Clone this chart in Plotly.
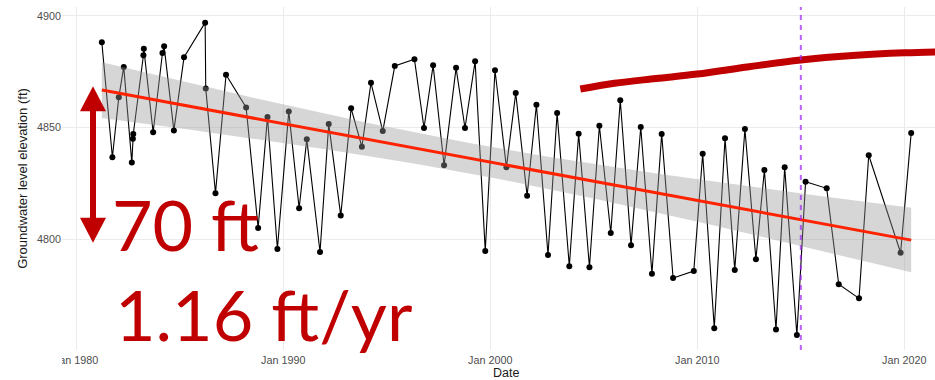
import numpy as np
import pandas as pd
import plotly.graph_objects as go

# Observation times (decimal years) and groundwater level elevation (ft)
obs_year = [1981.24, 1981.75, 1982.06, 1982.30, 1982.69, 1982.74, 1982.76, 1983.25, 1983.27, 1983.72,
            1984.17, 1984.25, 1984.72, 1985.21, 1986.23, 1986.26, 1986.73, 1987.24, 1988.21, 1988.79,
            1989.24, 1989.72, 1990.27, 1990.77, 1991.14, 1991.78, 1992.20, 1992.78, 1993.28, 1993.80,
            1994.24, 1994.81, 1995.39, 1996.34, 1996.80, 1997.24, 1997.77, 1998.35, 1998.78, 1999.27,
            1999.76, 2000.23, 2000.78, 2001.23, 2001.78, 2002.23, 2002.79, 2003.23, 2003.82, 2004.27,
            2004.79, 2005.27, 2005.82, 2006.28, 2006.80, 2007.27, 2007.81, 2008.28, 2008.83, 2009.83,
            2010.26, 2010.82, 2011.34, 2011.81, 2012.30, 2012.83, 2013.24, 2013.80, 2014.22, 2014.81,
            2015.23, 2016.25, 2016.83, 2017.81, 2018.28, 2019.82, 2020.33]
elev_ft = [4888.1, 4836.7, 4863.5, 4877.1, 4834.3, 4845.0, 4847.1, 4882.3, 4885.2, 4847.9,
           4883.3, 4886.3, 4848.7, 4881.4, 4896.9, 4867.5, 4820.6, 4873.6, 4859.0, 4805.1,
           4854.7, 4795.7, 4857.2, 4813.9, 4844.7, 4794.3, 4851.6, 4810.6, 4858.6, 4841.4,
           4870.0, 4848.4, 4877.5, 4880.5, 4849.8, 4877.8, 4833.1, 4876.7, 4849.8, 4879.6,
           4794.8, 4875.6, 4832.2, 4865.4, 4819.5, 4860.2, 4793.0, 4856.5, 4787.9, 4847.2,
           4787.5, 4850.8, 4802.8, 4862.2, 4797.3, 4850.2, 4784.6, 4847.1, 4782.7, 4785.8,
           4838.3, 4760.2, 4845.2, 4786.3, 4849.3, 4791.1, 4831.0, 4759.7, 4832.2, 4757.2,
           4825.8, 4822.8, 4779.9, 4773.6, 4837.6, 4794.0, 4847.5]

# Hand-drawn projection curve (decimal years, ft)
proj_year = [2004.35, 2006.0, 2008.0, 2010.0, 2012.5, 2015.0, 2017.5, 2020.0, 2022.0]
proj_ft = [4867.2, 4869.8, 4871.9, 4873.9, 4877.2, 4880.2, 4882.2, 4883.4, 4883.9]

marker_date = "2015-01-01"
tick_years = [1980, 1990, 2000, 2010, 2020]
tick_labels = ["Jan 1980", "Jan 1990", "Jan 2000", "Jan 2010", "Jan 2020"]
y_ticks = [4800, 4850, 4900]

drop_label = "70 ft"
rate_label = "1.16 ft/yr"
drop_ft = 70
arrow_top_ft = 4868.5

DARK_RED = "#C00000"


def to_dates(years):
    out = []
    for y in years:
        yr = int(np.floor(y))
        start = pd.Timestamp(year=yr, month=1, day=1)
        span = (pd.Timestamp(year=yr + 1, month=1, day=1) - start).days
        out.append(start + pd.Timedelta(days=(y - yr) * span))
    return out


x = np.array(obs_year)
y = np.array(elev_ft)

# Linear fit with 95% confidence band (as in geom_smooth(method = "lm"))
n = len(x)
slope, intercept = np.polyfit(x, y, 1)
resid = y - (slope * x + intercept)
s = np.sqrt(np.sum(resid ** 2) / (n - 2))
sxx = np.sum((x - x.mean()) ** 2)
xf = np.linspace(x.min(), x.max(), 80)
yf = slope * xf + intercept
se = s * np.sqrt(1.0 / n + (xf - x.mean()) ** 2 / sxx)
t_crit = 1.992
upper = yf + t_crit * se
lower = yf - t_crit * se

obs_dates = to_dates(obs_year)
fit_dates = to_dates(xf)

fig = go.Figure()

fig.add_trace(go.Scatter(
    x=obs_dates, y=elev_ft, mode="lines+markers",
    line=dict(color="black", width=1.1),
    marker=dict(color="black", size=6),
    showlegend=False, hoverinfo="skip"))

fig.add_trace(go.Scatter(
    x=fit_dates + fit_dates[::-1], y=list(upper) + list(lower[::-1]),
    fill="toself", fillcolor="rgba(153,153,153,0.4)",
    line=dict(width=0), mode="lines", showlegend=False, hoverinfo="skip"))

fig.add_trace(go.Scatter(
    x=fit_dates, y=yf, mode="lines",
    line=dict(color="#FF2200", width=3),
    showlegend=False, hoverinfo="skip"))

fig.add_trace(go.Scatter(
    x=to_dates(proj_year), y=proj_ft, mode="lines",
    line=dict(color=DARK_RED, width=7, shape="spline"),
    showlegend=False, hoverinfo="skip"))

# Vertical marker
fig.add_shape(type="line", xref="x", yref="paper",
              x0=marker_date, x1=marker_date, y0=0, y1=1,
              line=dict(color="rgba(160,32,240,0.7)", width=2, dash="5px,5px"),
              layer="above")

# Double-headed arrow showing the total drop
ax_c = 0.0355
hw = 0.0149
head_ft = 11.2
arrow_bot_ft = arrow_top_ft - drop_ft
fig.add_shape(type="line", xref="paper", yref="y",
              x0=ax_c, x1=ax_c, y0=arrow_top_ft - head_ft + 1, y1=arrow_bot_ft + head_ft - 1,
              line=dict(color=DARK_RED, width=6), layer="above")
fig.add_shape(type="path", xref="paper", yref="y",
              path=f"M {ax_c - hw},{arrow_top_ft - head_ft} L {ax_c + hw},{arrow_top_ft - head_ft} L {ax_c},{arrow_top_ft} Z",
              fillcolor=DARK_RED, line=dict(width=0), layer="above")
fig.add_shape(type="path", xref="paper", yref="y",
              path=f"M {ax_c - hw},{arrow_bot_ft + head_ft} L {ax_c + hw},{arrow_bot_ft + head_ft} L {ax_c},{arrow_bot_ft} Z",
              fillcolor=DARK_RED, line=dict(width=0), layer="above")

# Left tick label is trimmed at the panel edge
fig.add_shape(type="rect", xref="paper", yref="paper",
              x0=-0.08, x1=0, y0=-0.1, y1=-0.004,
              fillcolor="white", line=dict(width=0), layer="above")

fig.add_annotation(text=drop_label, xref="paper", yref="paper",
                   x=0.0555, y=0.367, xanchor="left", yanchor="middle", showarrow=False,
                   font=dict(family="Lato", size=70, color=DARK_RED))
fig.add_annotation(text=rate_label, xref="paper", yref="paper",
                   x=0.058, y=0.105, xanchor="left", yanchor="middle", showarrow=False,
                   font=dict(family="Lato", size=70, color=DARK_RED))

# x-axis title
fig.add_annotation(text="Date", xref="paper", yref="paper",
                   x=0.5086, y=-0.0665, xanchor="center", yanchor="middle", showarrow=False,
                   borderpad=0,
                   font=dict(family="Liberation Sans", size=12.5, color="#1A1A1A"))

fig.update_xaxes(
    type="date", automargin=False,
    range=["1979-04-27", "2021-06-25"],
    tickvals=[f"{yr}-01-01" for yr in tick_years], ticktext=tick_labels,
    showgrid=True, gridcolor="#EBEBEB", gridwidth=1, zeroline=False, showline=False,
    ticks="", ticklabelstandoff=2,
    tickfont=dict(family="Liberation Sans", size=10.8, color="#4D4D4D"),
)
fig.update_yaxes(
    automargin=False,
    range=[4750.5, 4903.9],
    tickvals=y_ticks, ticktext=[str(v) for v in y_ticks],
    showgrid=True, gridcolor="#EBEBEB", gridwidth=1, zeroline=False, showline=False,
    ticks="", tickfont=dict(family="Liberation Sans", size=10.8, color="#4D4D4D"),
    title=dict(text="Groundwater level elevation (ft)",
               font=dict(family="Liberation Sans", size=13, color="#1A1A1A"), standoff=6),
)

fig.update_layout(
    width=935, height=380,
    margin=dict(l=62, r=0, t=7, b=30),
    plot_bgcolor="white", paper_bgcolor="white",
)

fig.write_html("out.html")
